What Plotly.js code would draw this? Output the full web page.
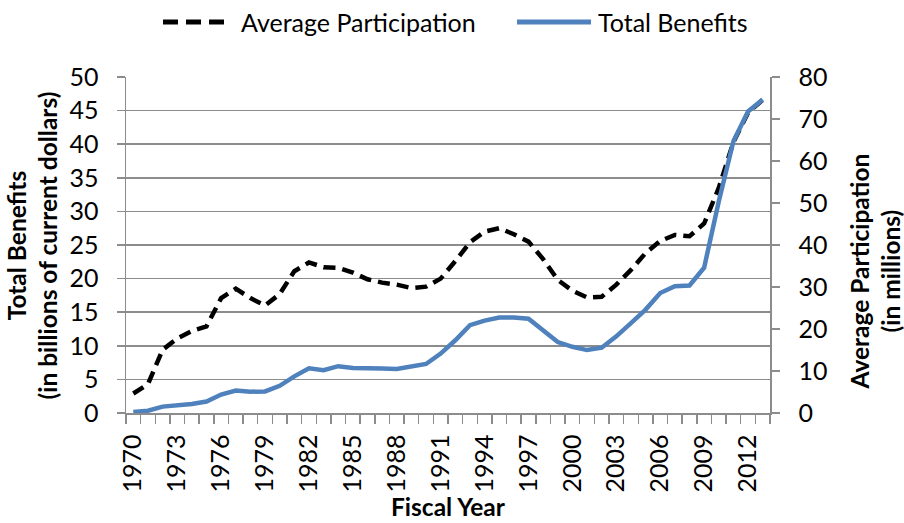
<!DOCTYPE html>
<html>
<head>
<meta charset="utf-8">
<script src="https://cdn.plot.ly/plotly-3.0.1.min.js"></script>
<style>
  html, body { margin: 0; padding: 0; background: #fff; }
  #chart { width: 904px; height: 523px; }
</style>
</head>
<body>
<div id="chart"></div>
<script>
// Fiscal years (categories)
const years = [1970,1971,1972,1973,1974,1975,1976,1977,1978,1979,
               1980,1981,1982,1983,1984,1985,1986,1987,1988,1989,
               1990,1991,1992,1993,1994,1995,1996,1997,1998,1999,
               2000,2001,2002,2003,2004,2005,2006,2007,2008,2009,
               2010,2011,2012,2013];

// Average participation (millions) - dashed black line, left scale
const participation = [2.9,4.3,9.4,11.1,12.2,12.9,17.1,18.5,17.1,16.0,
                       17.7,21.1,22.4,21.7,21.6,20.9,19.9,19.4,19.1,18.6,
                       18.8,20.0,22.6,25.4,27.0,27.5,26.6,25.5,22.9,19.8,
                       18.2,17.2,17.3,19.1,21.3,23.8,25.6,26.5,26.3,28.2,
                       33.5,40.3,44.7,46.6];

// Total benefits (billions of current dollars) - blue line, right scale
const benefits = [0.23,0.55,1.52,1.80,2.13,2.72,4.39,5.33,5.07,5.14,
                  6.48,8.72,10.63,10.21,11.15,10.70,10.74,10.61,10.50,11.15,
                  11.67,14.14,17.32,20.91,22.01,22.75,22.76,22.44,19.55,16.89,
                  15.77,14.98,15.55,18.26,21.40,24.62,28.57,30.19,30.37,34.61,
                  50.36,64.70,71.81,74.62];

// Tick labels shown on the x axis
const xTickYears = [1970,1973,1976,1979,1982,1985,1988,1991,1994,1997,2000,2003,2006,2009,2012];
const xTickText = xTickYears.map(String);
const leftTicks = [0,5,10,15,20,25,30,35,40,45,50];
const rightTicks = [0,10,20,30,40,50,60,70,80];
const seriesNames = ['Average Participation', 'Total Benefits'];
const xTitle = 'Fiscal Year';
const leftTitle = 'Total Benefits<br>(in billions of current dollars)';
const rightTitle = 'Average Participation<br>(in millions)';

// category boundaries for the minor tick marks
const boundaries = years.map(y => y - 0.5).concat([years[years.length - 1] + 0.5]);

const FONT = 'Lato, "Open Sans", sans-serif';
const GRID = '#8c8c8c';
const BLUE = '#4f81bd';
const DASH = '12px,7px';

const traces = [
  {
    x: years, y: participation, yaxis: 'y', type: 'scatter', mode: 'lines',
    name: seriesNames[0],
    line: { color: '#000000', width: 4.5, dash: DASH },
    hoverinfo: 'x+y'
  },
  {
    x: years, y: benefits, yaxis: 'y2', type: 'scatter', mode: 'lines',
    name: seriesNames[1],
    line: { color: BLUE, width: 4.5 },
    hoverinfo: 'x+y'
  }
];

// helpers: pixel position -> paper coordinates (plot area: x 126..770 px, y 77..413 px)
const px = v => (v - 126) / 644;
const py = v => (413 - v) / 336;
const LEG_Y = 22;
const titleFont = { family: FONT, size: 24.5, color: '#000' };

const layout = {
  width: 904, height: 523,
  margin: { l: 126, r: 134, t: 77, b: 110, pad: 0 },
  paper_bgcolor: '#ffffff', plot_bgcolor: '#ffffff',
  font: { family: FONT, size: 25, color: '#000000' },
  showlegend: false,
  shapes: [
    { type: 'line', xref: 'paper', yref: 'paper', x0: px(163), x1: px(228), y0: py(LEG_Y), y1: py(LEG_Y),
      line: { color: '#000', width: 5, dash: '15px,8px' } },
    { type: 'line', xref: 'paper', yref: 'paper', x0: px(517), x1: px(591), y0: py(LEG_Y), y1: py(LEG_Y),
      line: { color: BLUE, width: 5 } }
  ],
  annotations: [
    { xref: 'paper', yref: 'paper', x: px(239), y: py(LEG_Y), xanchor: 'left', yanchor: 'middle',
      text: seriesNames[0], showarrow: false, font: { family: FONT, size: 25, color: '#000' } },
    { xref: 'paper', yref: 'paper', x: px(596), y: py(LEG_Y), xanchor: 'left', yanchor: 'middle',
      text: seriesNames[1], showarrow: false, font: { family: FONT, size: 25, color: '#000' } },
    { xref: 'paper', yref: 'paper', x: px(448), y: py(507), xanchor: 'center', yanchor: 'middle',
      text: '<b>' + xTitle + '</b>', showarrow: false, font: titleFont },
    { xref: 'paper', yref: 'paper', x: px(31.5), y: py(245), xanchor: 'center', yanchor: 'middle',
      textangle: -90, text: '<b>' + leftTitle + '</b>', showarrow: false, font: titleFont },
    { xref: 'paper', yref: 'paper', x: px(874.5), y: py(272), xanchor: 'center', yanchor: 'middle',
      textangle: -90, text: '<b>' + rightTitle + '</b>', showarrow: false, font: titleFont }
  ],
  xaxis: {
    type: 'linear', range: [1969.5, 2013.5],
    tickmode: 'array', tickvals: xTickYears, ticktext: xTickText,
    tickangle: -90, ticks: 'outside', ticklen: 10, tickcolor: 'rgba(0,0,0,0)',
    tickfont: { family: FONT, size: 25, color: '#000' },
    showgrid: false, zeroline: false,
    showline: true, linecolor: GRID, linewidth: 1.5,
    minor: { tickmode: 'array', tickvals: boundaries, ticks: 'outside', ticklen: 9,
             tickcolor: GRID, tickwidth: 1.5, showgrid: false }
  },
  yaxis: {
    range: [0, 50], tickmode: 'array', tickvals: leftTicks,
    ticks: 'outside', ticklen: 8, tickcolor: GRID, tickwidth: 1.5,
    ticklabelstandoff: 13,
    showgrid: true, gridcolor: GRID, gridwidth: 1.5,
    zeroline: false, showline: true, linecolor: GRID, linewidth: 1.5,
    tickfont: { family: FONT, size: 25, color: '#000' }
  },
  yaxis2: {
    range: [0, 80], tickmode: 'array', tickvals: rightTicks,
    overlaying: 'y', side: 'right',
    ticks: 'outside', ticklen: 8, tickcolor: GRID, tickwidth: 1.5,
    ticklabelstandoff: 14,
    showgrid: false, zeroline: false, showline: true, linecolor: GRID, linewidth: 1.5,
    tickfont: { family: FONT, size: 25, color: '#000' }
  }
};

Plotly.newPlot('chart', traces, layout, { displayModeBar: false, staticPlot: true });
</script>
</body>
</html>
